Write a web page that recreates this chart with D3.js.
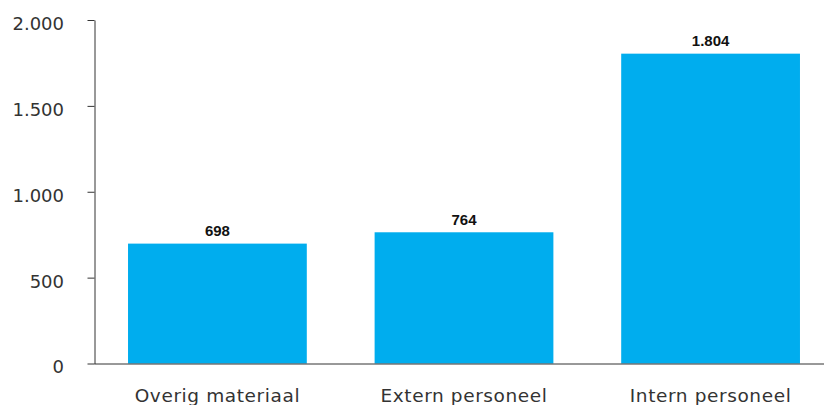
<!DOCTYPE html>
<html>
<head>
<meta charset="utf-8">
<script src="https://cdn.jsdelivr.net/npm/d3@7"></script>
<style>
  html, body { margin: 0; padding: 0; background: #fff; }
  svg { display: block; }
</style>
</head>
<body>
<svg id="chart" width="824" height="405"></svg>
<script>
const categories = ["Overig materiaal", "Extern personeel", "Intern personeel"];
const values = [698, 764, 1804];
const yTicks = [0, 500, 1000, 1500, 2000];
const yTickLabels = ["0", "500", "1.000", "1.500", "2.000"];
const valueLabels = ["698", "764", "1.804"];

const svg = d3.select("#chart");
const axisColor = "#333333";
const barColor = "#00ADEE";

const x = d3.scaleBand()
  .domain(categories)
  .range([94, 834])
  .paddingInner(0.275)
  .paddingOuter(0.138);

const y = d3.scaleLinear()
  .domain([0, 2000])
  .range([363.5, 20]);

// bars
svg.append("g")
  .selectAll("rect")
  .data(values)
  .join("rect")
  .attr("x", (d, i) => x(categories[i]))
  .attr("y", d => y(d))
  .attr("width", x.bandwidth())
  .attr("height", d => y(0) - y(d))
  .attr("fill", barColor);

// value labels
svg.append("g")
  .selectAll("text")
  .data(values)
  .join("text")
  .attr("x", (d, i) => x(categories[i]) + x.bandwidth() / 2)
  .attr("y", d => y(d) - 7.5)
  .attr("text-anchor", "middle")
  .attr("font-family", "'Liberation Sans', Arial, sans-serif")
  .attr("font-weight", "bold")
  .attr("font-size", "15px")
  .attr("fill", "#111")
  .text((d, i) => valueLabels[i]);

// y axis
const yAxis = d3.axisLeft(y)
  .tickValues(yTicks)
  .tickFormat((d, i) => yTickLabels[i])
  .tickSize(7)
  .tickSizeOuter(0)
  .tickPadding(23.5);

const gy = svg.append("g")
  .attr("transform", "translate(94.5,0)")
  .call(yAxis);
gy.select(".domain").attr("stroke", axisColor);
gy.selectAll(".tick line").attr("stroke", axisColor);
gy.selectAll(".tick text")
  .attr("font-family", "'DejaVu Sans', sans-serif")
  .attr("font-size", "18px")
  .attr("fill", axisColor)
  .attr("dy", "0.52em");

// x axis
const xAxis = d3.axisBottom(x)
  .tickSize(0)
  .tickSizeOuter(0)
  .tickPadding(25);

const gx = svg.append("g")
  .attr("transform", "translate(0," + (y(0)) + ")")
  .call(xAxis);
gx.select(".domain").attr("stroke", axisColor);
gx.selectAll(".tick text")
  .attr("font-family", "'DejaVu Sans', sans-serif")
  .attr("font-size", "18.5px")
  .attr("letter-spacing", "0.6px")
  .attr("fill", axisColor);
</script>
</body>
</html>
